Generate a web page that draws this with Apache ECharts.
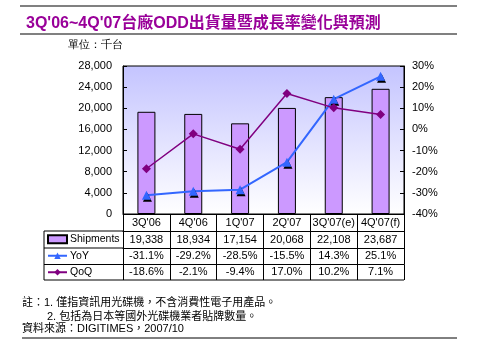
<!DOCTYPE html>
<html><head><meta charset="utf-8">
<script src="https://cdn.jsdelivr.net/npm/echarts@6/dist/echarts.min.js"></script>
<style>html,body{margin:0;padding:0;background:#fff}#c{width:479px;height:341px}</style>
</head><body><div id="c"></div>
<script>
const categories = ["3Q'06", "4Q'06", "1Q'07", "2Q'07", "3Q'07(e)", "4Q'07(f)"];
const shipments = [19338, 18934, 17154, 20068, 22108, 23687];
const yoy = [-31.1, -29.2, -28.5, -15.5, 14.3, 25.1];
const qoq = [-18.6, -2.1, -9.4, 17.0, 10.2, 7.1];
const leftTicks = {min: 0, max: 28000, interval: 4000};
const rightTicks = {min: -40, max: 30, interval: 10};

const FONT = '"Liberation Sans", Arial, "Noto Sans CJK TC", sans-serif';
const G = {left: 123, right: 404, top: 66, bottom: 214};
const ROW = [214, 231, 248, 264.5, 280];
const TL = 44;

const fmtNum = v => v.toLocaleString('en-US');
const fmtPct = v => v.toFixed(1) + '%';

const chart = echarts.init(document.getElementById('c'), null, {renderer: 'canvas'});

function tableAxis(data, offset, h) {
  return {
    type: 'category', gridIndex: 0, position: 'bottom', offset: offset,
    data: data,
    axisLine: {show: true, onZero: false, lineStyle: {color: '#000', width: 1}},
    axisTick: {show: true, length: h, interval: 0, lineStyle: {color: '#000'}},
    axisLabel: {show: true, interval: 0, margin: 0, lineHeight: h, fontSize: 11, color: '#000', fontFamily: FONT},
    splitLine: {show: false}
  };
}

const option = {
  animation: false,
  textStyle: {fontFamily: FONT},
  title: {
    text: "3Q'06~4Q'07台廠ODD出貨量暨成長率變化與預測",
    left: 21, top: 11,
    textStyle: {fontSize: 16, fontWeight: 'bold', color: '#990099', fontFamily: FONT}
  },
  grid: {
    left: G.left, right: 479 - G.right, top: G.top, bottom: 341 - G.bottom,
    show: true, borderColor: '#000', borderWidth: 1,
    backgroundColor: new echarts.graphic.LinearGradient(0, 0, 0, 1, [
      {offset: 0, color: '#C4C4FF'}, {offset: 1, color: '#FFFFFF'}
    ])
  },
  legend: {
    orient: 'vertical', left: TL + 3, top: ROW[1], itemGap: 0, padding: 0,
    itemWidth: 19, itemHeight: 8,
    textStyle: {fontSize: 10.5, color: '#000', lineHeight: 16.5, fontFamily: FONT, padding: [0, 0, 0, -2]},
    data: [{name: 'Shipments', icon: 'rect'}, 'YoY', 'QoQ']
  },
  xAxis: [
    tableAxis(categories, 0, 17),
    tableAxis(shipments.map(fmtNum), 17, 17),
    tableAxis(yoy.map(fmtPct), 34, 16.5),
    tableAxis(qoq.map(fmtPct), 50.5, 15.5)
  ],
  yAxis: [
    {
      type: 'value', min: leftTicks.min, max: leftTicks.max, interval: leftTicks.interval,
      axisLine: {show: true, lineStyle: {color: '#000'}},
      axisTick: {show: true, inside: true, length: 4, lineStyle: {color: '#000'}},
      axisLabel: {fontSize: 11, color: '#000', margin: 11, fontFamily: FONT, formatter: v => fmtNum(v)},
      splitLine: {show: false}
    },
    {
      type: 'value', min: rightTicks.min, max: rightTicks.max, interval: rightTicks.interval,
      axisLine: {show: true, lineStyle: {color: '#000'}},
      axisTick: {show: true, inside: true, length: 4, lineStyle: {color: '#000'}},
      axisLabel: {fontSize: 11, color: '#000', margin: 8, fontFamily: FONT, formatter: v => v + '%'},
      splitLine: {show: false}
    }
  ],
  series: [
    {
      name: 'Shipments', type: 'bar', data: shipments, barWidth: 18,
      itemStyle: {color: '#CC99FF', borderColor: '#000', borderWidth: 1}
    },
    {
      name: 'YoY', type: 'line', yAxisIndex: 1, data: yoy,
      symbol: 'triangle', symbolSize: 9,
      lineStyle: {color: '#3366FF', width: 2},
      itemStyle: {color: '#3366FF', shadowColor: '#000', shadowOffsetX: 1, shadowOffsetY: 2, shadowBlur: 0}
    },
    {
      name: 'QoQ', type: 'line', yAxisIndex: 1, data: qoq,
      symbol: 'diamond', symbolSize: 9,
      lineStyle: {color: '#800080', width: 1.5},
      itemStyle: {color: '#800080'}
    }
  ],
  graphic: [
    {type: 'line', shape: {x1: 20, y1: 6, x2: 457, y2: 6}, style: {stroke: '#808080', lineWidth: 2}},
    {type: 'line', shape: {x1: 20, y1: 34, x2: 457, y2: 34}, style: {stroke: '#808080', lineWidth: 2}},
    {type: 'text', left: 68, top: 39, style: {text: '單位：千台', fontSize: 11, fill: '#000', font: '11px ' + FONT}},
    {type: 'line', shape: {x1: TL, y1: ROW[1], x2: G.left, y2: ROW[1]}, style: {stroke: '#000', lineWidth: 1}},
    {type: 'line', shape: {x1: TL, y1: ROW[2], x2: G.left, y2: ROW[2]}, style: {stroke: '#000', lineWidth: 1}},
    {type: 'line', shape: {x1: TL, y1: ROW[3], x2: G.left, y2: ROW[3]}, style: {stroke: '#000', lineWidth: 1}},
    {type: 'line', shape: {x1: TL, y1: ROW[4], x2: G.right, y2: ROW[4]}, style: {stroke: '#000', lineWidth: 1}},
    {type: 'line', shape: {x1: TL, y1: ROW[1], x2: TL, y2: ROW[4]}, style: {stroke: '#000', lineWidth: 1}},
    {type: 'text', left: 22, top: 297, style: {text: '註：1. 僅指資訊用光碟機，不含消費性電子用產品。', font: '11px ' + FONT, fill: '#000'}},
    {type: 'text', left: 47, top: 311, style: {text: '2. 包括為日本等國外光碟機業者貼牌數量。', font: '11px ' + FONT, fill: '#000'}},
    {type: 'text', left: 22, top: 323, style: {text: '資料來源：DIGITIMES，2007/10', font: '11px ' + FONT, fill: '#000'}},
    {type: 'line', shape: {x1: 22, y1: 338, x2: 457, y2: 338}, style: {stroke: '#000', lineWidth: 1}}
  ]
};
chart.setOption(option);
</script>
</body></html>
